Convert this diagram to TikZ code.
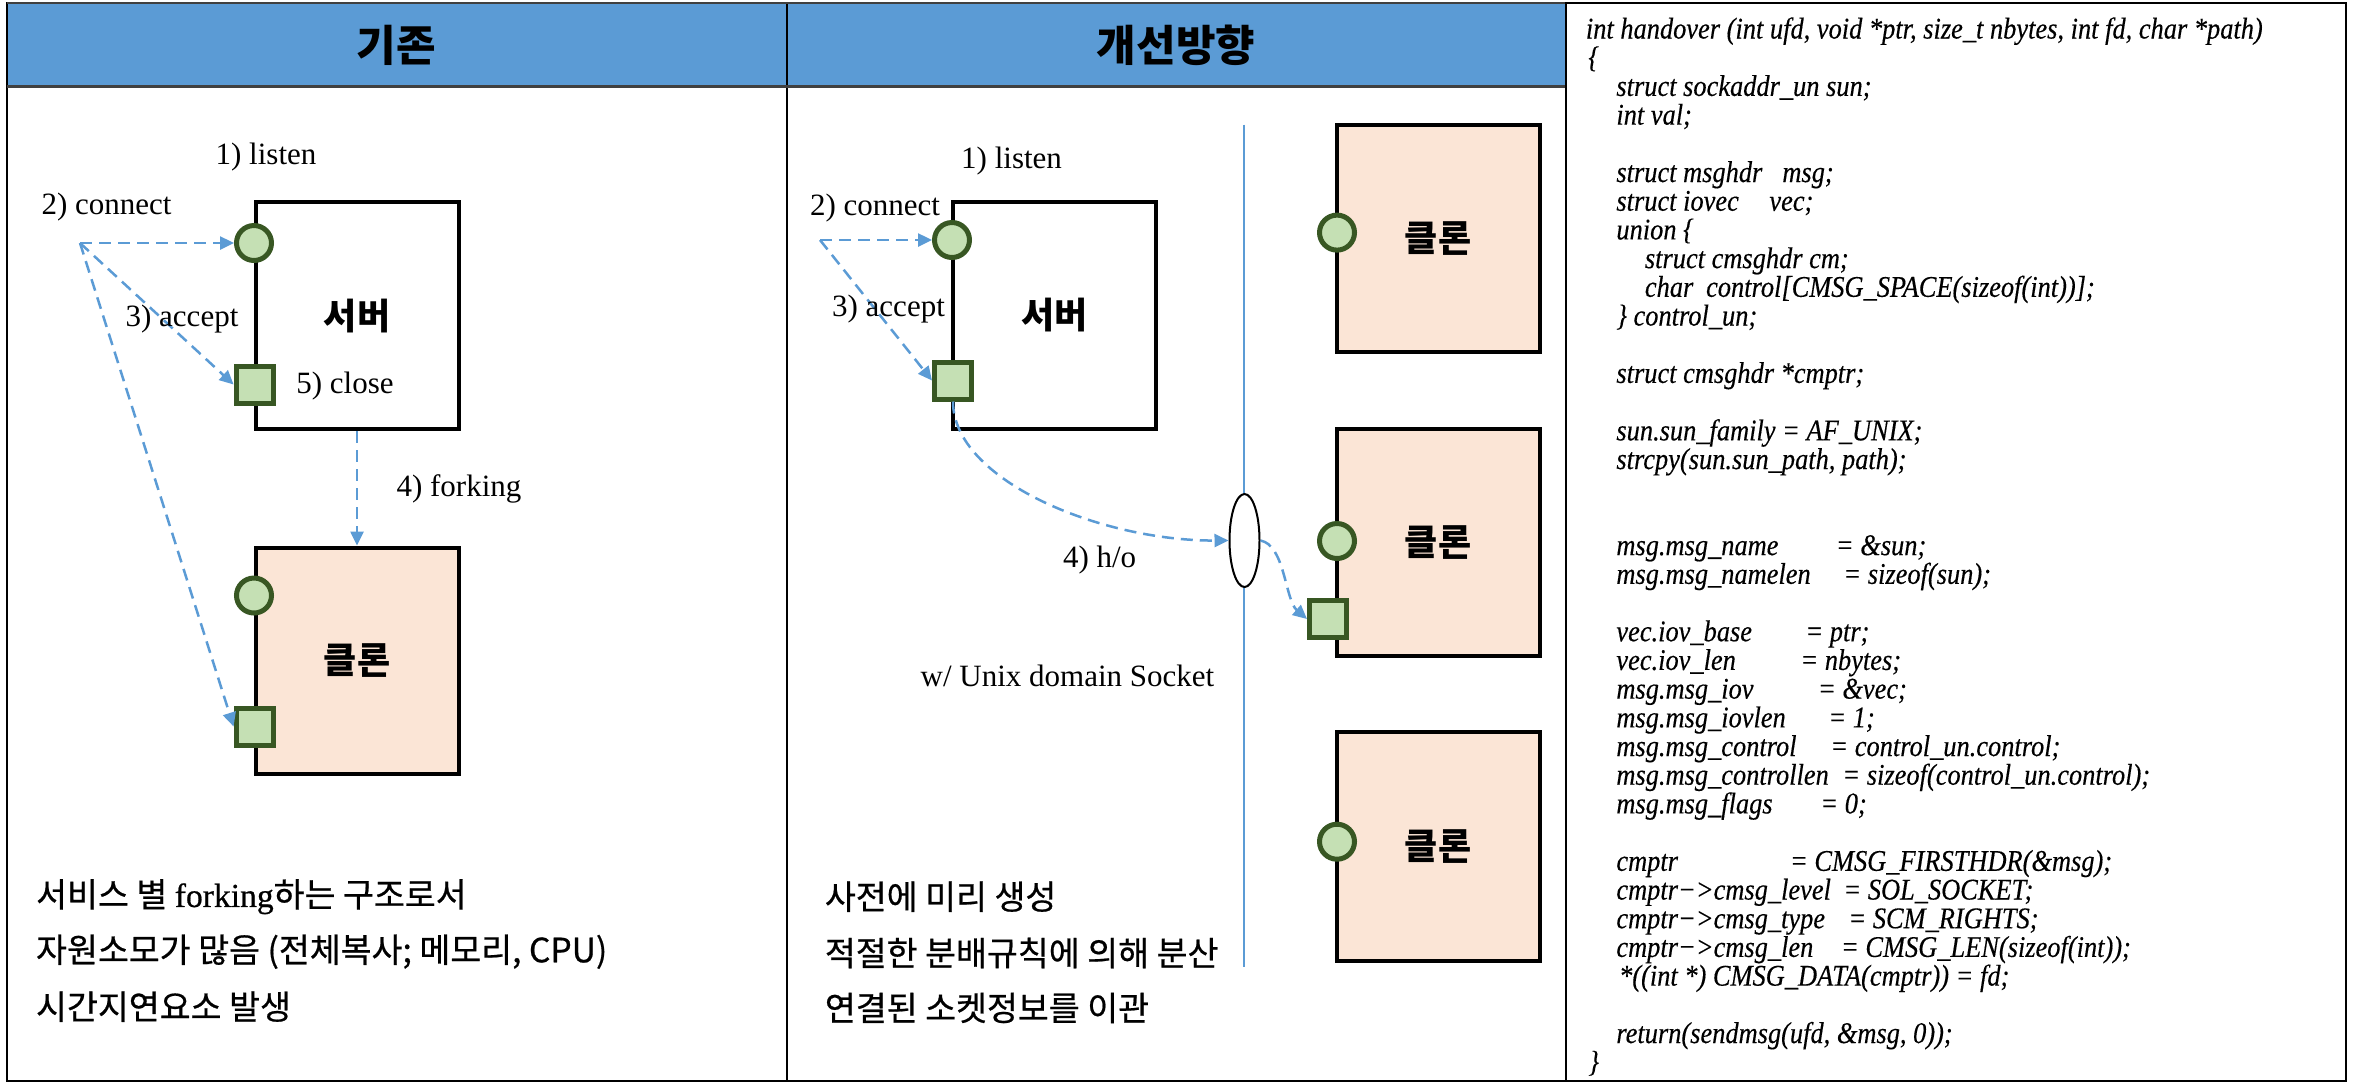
\documentclass[tikz,border=0pt]{standalone}
\usepackage{fontspec}
\setmainfont{Liberation Serif}
\newfontfamily\kr{Noto Sans CJK KR}
\newfontfamily\krn[FakeBold=0.6]{Noto Sans CJK KR}
\newfontfamily\rmn[FakeBold=0.6]{Liberation Serif}
\newfontfamily\codefont[FakeStretch=0.88,FakeBold=0.3]{Liberation Serif}
\usetikzlibrary{arrows.meta,shapes.geometric}
\definecolor{hdrblue}{HTML}{5B9BD5}
\definecolor{portfill}{HTML}{C5E0B4}
\definecolor{portline}{HTML}{385723}
\definecolor{clonefill}{HTML}{FBE5D6}
\definecolor{flowblue}{HTML}{5B9BD5}
\newcommand\codeat[4]{\node[codetxt] (#1) at (#2,{38.5+28.7*#3}) {#4};}
\newcommand\lhsbox[2]{\makebox[#1pt][l]{#2}}
\begin{document}
\begin{tikzpicture}[x=0.5pt,y=-0.5pt,
  box/.style={draw=black, line width=2pt, minimum width=101.5pt, minimum height=113.3pt, inner sep=0pt,
    font=\kr\bfseries\fontsize{18}{20}\selectfont},
  srvbox/.style={box, fill=white},
  clonebox/.style={box, fill=clonefill},
  port/.style={circle, draw=portline, fill=portfill, line width=2.5pt, minimum size=17.5pt, inner sep=0pt},
  sock/.style={rectangle, draw=portline, fill=portfill, line width=2.5pt, minimum size=18.5pt, inner sep=0pt},
  lbl/.style={font=\fontsize{15.5}{18}\selectfont, inner sep=0pt},
  head/.style={font=\kr\bfseries\fontsize{21.5}{24}\selectfont, inner sep=0pt},
  note/.style={font=\krn\fontsize{16.8}{19}\selectfont, anchor=west, inner sep=0pt},
  flow/.style={draw=flowblue, line width=1.25pt, dash pattern=on 6pt off 3.5pt, -{Triangle[length=7pt,width=6.5pt]}},
  codetxt/.style={font=\codefont\itshape\fontsize{15}{16}\selectfont, anchor=base west, inner sep=0pt},
]
\useasboundingbox (0,0) rectangle (2357,1084);
\fill[white] (0,0) rectangle (2357,1084);

% table frame
\fill[hdrblue] (7,3) rectangle (1566,86);
\draw[line width=1pt] (7,3) rectangle (1566,1081);
\draw[line width=1pt] (786.5,3) -- (786.5,1081);
\draw[line width=1.5pt, gray!50!black] (7,86) -- (1566,86);
\draw[line width=1pt, gray!50!black] (7,3) -- (1566,3);
\node[head] (h1) at (396.5,45) {기존};
\node[head] (h2) at (1176,45) {개선방향};

% code panel
\draw[line width=1.2pt, fill=white] (1566,3) rectangle (2346,1081);

% ---------- left diagram ----------
\node[srvbox] (srvL) at (357,315.7) {서버};
\node[clonebox] (clnL) at (357,660.8) {클론};
\node[port] (lpL) at (254,243) {};
\node[sock] (asL) at (254.6,384.5) {};
\node[port] (cpL) at (254,595.5) {};
\node[sock] (csL) at (254.6,726.5) {};
\coordinate (oL) at (80,243);
\draw[flow] (oL) -- (lpL.west);
\draw[flow] (oL) -- (asL.west);
\draw[flow] (oL) -- (csL.west);
\draw[flow] (srvL.south) -- (clnL.north);
\node[lbl] (l1L) at (266,157) {1) listen};
\node[lbl] (l2L) at (106.5,207) {2) connect};
\node[lbl] (l3L) at (182,318.7) {3) accept};
\node[lbl] (l5L) at (345,385.7) {5) close};
\node[lbl] (l4L) at (459,489) {4) forking};

% ---------- middle diagram ----------
\coordinate (vt) at (1244,124.5);
\coordinate (vb) at (1244,966.7);
\draw[flowblue, line width=0.8pt] (vt) -- (vb);
\node[srvbox] (srvM) at (1054.2,315.4) {서버};
\node[port] (lpM) at (952,240) {};
\node[sock] (asM) at (953,380.5) {};
\coordinate (oM) at (820,240);
\draw[flow] (oM) -- (lpM.west);
\draw[flow] (oM) -- (asM.west);
\node[ellipse, draw=black, line width=1pt, fill=white, minimum width=15pt, minimum height=46.5pt, inner sep=0pt] (ho) at (1244.5,540.5) {};
\node[clonebox] (clA) at (1438,238.3) {클론};
\node[clonebox] (clB) at (1438,542.5) {클론};
\node[clonebox, minimum height=114.5pt] (clC) at (1438,846.5) {클론};
\node[port] (pA) at (1337,232.6) {};
\node[port] (pB) at (1337,541) {};
\node[port] (pC) at (1337,841.7) {};
\node[sock] (sB) at (1328,619) {};
\draw[flow] (asM.south) .. controls (953,480) and (1100,541) .. (ho.west);
\draw[flow] (ho.east) .. controls (1285,545) and (1285,600) .. (sB.west);
\node[lbl] (l1M) at (1011.6,161) {1) listen};
\node[lbl] (l2M) at (875,208.5) {2) connect};
\node[lbl] (l3M) at (888.5,309) {3) accept};
\node[lbl] (l4M) at (1099.6,559.8) {4) h/o};
\node[lbl] (uds) at (1067.5,676) {w/ Unix domain Socket};

% ---------- notes ----------
\node[note] (n1) at (35.7,896.7) {서비스 별 {\rmn forking}하는 구조로서};
\node[note] (n2) at (35.7,951.7) {자원소모가 많음 (전체복사; 메모리, CPU)};
\node[note] (n3) at (35.7,1006.7) {시간지연요소 발생};
\node[note] (n4) at (824.5,896.7) {사전에 미리 생성};
\node[note] (n5) at (824.5,953) {적절한 분배규칙에 의해 분산};
\node[note] (n6) at (824.5,1008) {연결된 소켓정보를 이관};

% ---------- code ----------
\codeat{c0}{1585.5}{0}{int handover (int ufd, void *ptr, size\_t nbytes, int fd, char *path)}
\codeat{c1}{1588}{1}{\{}
\codeat{c2}{1616}{2}{struct sockaddr\_un sun;}
\codeat{c3}{1616}{3}{int val;}
\codeat{c5}{1616}{5}{\lhsbox{83}{struct msghdr}msg;}
\codeat{c6}{1616}{6}{\lhsbox{76.5}{struct iovec}vec;}
\codeat{c7}{1616}{7}{union \{}
\codeat{c8}{1644.5}{8}{struct cmsghdr cm;}
\codeat{c9}{1644.5}{9}{\lhsbox{30.6}{char}control[CMSG\_SPACE(sizeof(int))];}
\codeat{c10}{1616}{10}{\} control\_un;}
\codeat{c12}{1616}{12}{struct cmsghdr *cmptr;}
\codeat{c14}{1616}{14}{sun.sun\_family = AF\_UNIX;}
\codeat{c15}{1616}{15}{strcpy(sun.sun\_path, path);}
\codeat{c18}{1616}{18}{\lhsbox{109.75}{msg.msg\_name}= \&sun;}
\codeat{c19}{1616}{19}{\lhsbox{113.5}{msg.msg\_namelen}= sizeof(sun);}
\codeat{c21}{1616}{21}{\lhsbox{94.5}{vec.iov\_base}= ptr;}
\codeat{c22}{1616}{22}{\lhsbox{92}{vec.iov\_len}= nbytes;}
\codeat{c23}{1616}{23}{\lhsbox{100.8}{msg.msg\_iov}= \&vec;}
\codeat{c24}{1616}{24}{\lhsbox{106}{msg.msg\_iovlen}= 1;}
\codeat{c25}{1616}{25}{\lhsbox{107}{msg.msg\_control}= control\_un.control;}
\codeat{c26}{1616}{26}{\lhsbox{113}{msg.msg\_controllen}= sizeof(control\_un.control);}
\codeat{c27}{1616}{27}{\lhsbox{102}{msg.msg\_flags}= 0;}
\codeat{c29}{1616}{29}{\lhsbox{86.8}{cmptr}= CMSG\_FIRSTHDR(\&msg);}
\codeat{c30}{1616}{30}{\lhsbox{113.5}{cmptr−>cmsg\_level}= SOL\_SOCKET;}
\codeat{c31}{1616}{31}{\lhsbox{116}{cmptr−>cmsg\_type}= SCM\_RIGHTS;}
\codeat{c32}{1616}{32}{\lhsbox{112.3}{cmptr−>cmsg\_len}= CMSG\_LEN(sizeof(int));}
\codeat{c33}{1618.7}{33}{*((int *) CMSG\_DATA(cmptr)) = fd;}
\codeat{c35}{1616}{35}{return(sendmsg(ufd, \&msg, 0));}
\codeat{c36}{1588}{36}{\}}
\end{tikzpicture}
\end{document}
